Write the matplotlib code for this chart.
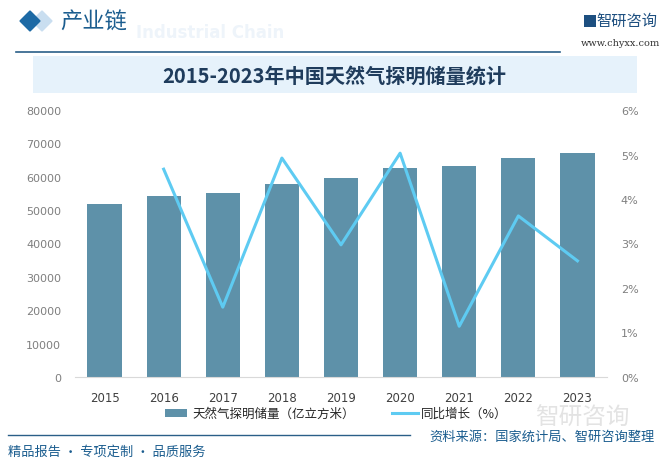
import matplotlib
matplotlib.use("Agg")
import matplotlib.pyplot as plt
from matplotlib.patches import Rectangle, Polygon
from matplotlib.lines import Line2D
from matplotlib.ticker import FuncFormatter

plt.rcParams['font.family'] = ['Noto Sans CJK SC', 'DejaVu Sans']

years = ['2015', '2016', '2017', '2018', '2019', '2020', '2021', '2022', '2023']
reserves = [51800, 54200, 55100, 57900, 59700, 62600, 63300, 65700, 67100]
growth_years = ['2016', '2017', '2018', '2019', '2020', '2021', '2022', '2023']
growth = [4.67, 1.57, 4.92, 2.97, 5.03, 1.14, 3.62, 2.61]

title = '2015-2023年中国天然气探明储量统计'
bar_label = '天然气探明储量（亿立方米）'
line_label = '同比增长（%）'

BAR_C = '#5e91a9'
LINE_C = '#5ecbf2'
NAVY = '#1b5d8f'

W, H = 661, 464
fig = plt.figure(figsize=(W / 100, H / 100), dpi=100)
fig.patch.set_facecolor('white')

def fx(x): return x / W
def fy(y): return 1 - y / H

# header
fig.add_artist(Polygon([[fx(32), fy(22)], [fx(42), fy(12)], [fx(52), fy(22)], [fx(42), fy(32)]],
                       closed=True, transform=fig.transFigure, color='#c9def0', zorder=1))
fig.add_artist(Polygon([[fx(20), fy(22)], [fx(30), fy(12)], [fx(40), fy(22)], [fx(30), fy(32)]],
                       closed=True, transform=fig.transFigure, color='#1d6aa5', zorder=2))
fig.text(fx(136), fy(33), 'Industrial Chain', fontsize=12, color='#eef4fa', fontweight='bold',
         ha='left', va='center', family=['DejaVu Sans'], zorder=0)
fig.text(fx(60), fy(22), '产业链', fontsize=16, color=NAVY, ha='left', va='center', zorder=3)
fig.add_artist(Line2D([fx(16), fx(560)], [fy(53), fy(53)], transform=fig.transFigure,
                      color='#2a5f88', lw=1.2))
fig.text(fx(627), fy(21), '智研咨询', fontsize=11, color='#1d4f80', ha='center', va='center')
fig.add_artist(Rectangle((fx(584), fy(28)), fx(12), 12 / H, transform=fig.transFigure,
                         facecolor='#1d4f80', edgecolor='none'))
fig.text(fx(620), fy(44), 'www.chyxx.com', fontsize=7, color='#333333', ha='center', va='center',
         family=['DejaVu Serif'])

# title band
fig.add_artist(Rectangle((fx(33), fy(94)), fx(604), 37 / H, transform=fig.transFigure,
                         facecolor='#e6f2fb', edgecolor='none', zorder=0))
fig.text(fx(334), fy(76), title, fontsize=14.5, fontweight='bold', color='#1f3c5c',
         ha='center', va='center')

# axes
ax = fig.add_axes([fx(75), fy(378), fx(607) - fx(75), (378 - 111) / H])
ax.set_facecolor('none')
x = list(range(len(years)))
ax.bar(x, reserves, width=0.58, color=BAR_C, zorder=2)
ax.set_xlim(-0.5, len(years) - 0.5)
ax.set_ylim(0, 80000)
ax.set_yticks(range(0, 80001, 10000))
ax.set_xticks(x)
ax.set_xticklabels(years)
for s in ['top', 'right', 'left']:
    ax.spines[s].set_visible(False)
ax.spines['bottom'].set_color('#d9d9d9')
ax.tick_params(axis='y', length=0, labelsize=8, labelcolor='#7f7f7f', pad=10)
ax.tick_params(axis='x', length=0, labelsize=8.5, labelcolor='#404040', pad=10)
for lbl in ax.get_yticklabels() + ax.get_xticklabels():
    lbl.set_family(['DejaVu Sans'])

ax2 = ax.twinx()
gx = [years.index(y) for y in growth_years]
ax2.plot(gx, growth, color=LINE_C, lw=2.2, zorder=3)
ax2.set_ylim(0, 6)
ax2.set_yticks(range(0, 7))
ax2.yaxis.set_major_formatter(FuncFormatter(lambda v, p: f'{int(v)}%'))
for s in ['top', 'right', 'left', 'bottom']:
    ax2.spines[s].set_visible(False)
ax2.tick_params(axis='y', length=0, labelsize=8, labelcolor='#7f7f7f', pad=10)
for lbl in ax2.get_yticklabels():
    lbl.set_family(['DejaVu Sans'])

# watermark near legend
fig.text(fx(582), fy(418), '智研咨询', fontsize=17, color='#dcdcdc', ha='center', va='center',
         alpha=0.8, zorder=0)

# legend
fig.add_artist(Rectangle((fx(165), fy(418)), fx(22), 8 / H, transform=fig.transFigure,
                         facecolor=BAR_C, edgecolor='none'))
fig.text(fx(192), fy(414), bar_label, fontsize=9, color='#262626', ha='left', va='center')
fig.add_artist(Line2D([fx(392), fx(418)], [fy(414), fy(414)], transform=fig.transFigure,
                      color=LINE_C, lw=2.2))
fig.text(fx(421), fy(414), line_label, fontsize=9, color='#262626', ha='left', va='center')

# footer
fig.add_artist(Line2D([fx(8), fx(410)], [fy(436), fy(436)], transform=fig.transFigure,
                      color='#2a5f88', lw=1.0))
fig.text(fx(8), fy(452), '精品报告 · 专项定制 · 品质服务', fontsize=9.5, color=NAVY,
         ha='left', va='center')
fig.text(fx(655), fy(437), '资料来源：国家统计局、智研咨询整理', fontsize=9.5, color=NAVY,
         ha='right', va='center')

fig.savefig('out.png', dpi=100, facecolor='white')
